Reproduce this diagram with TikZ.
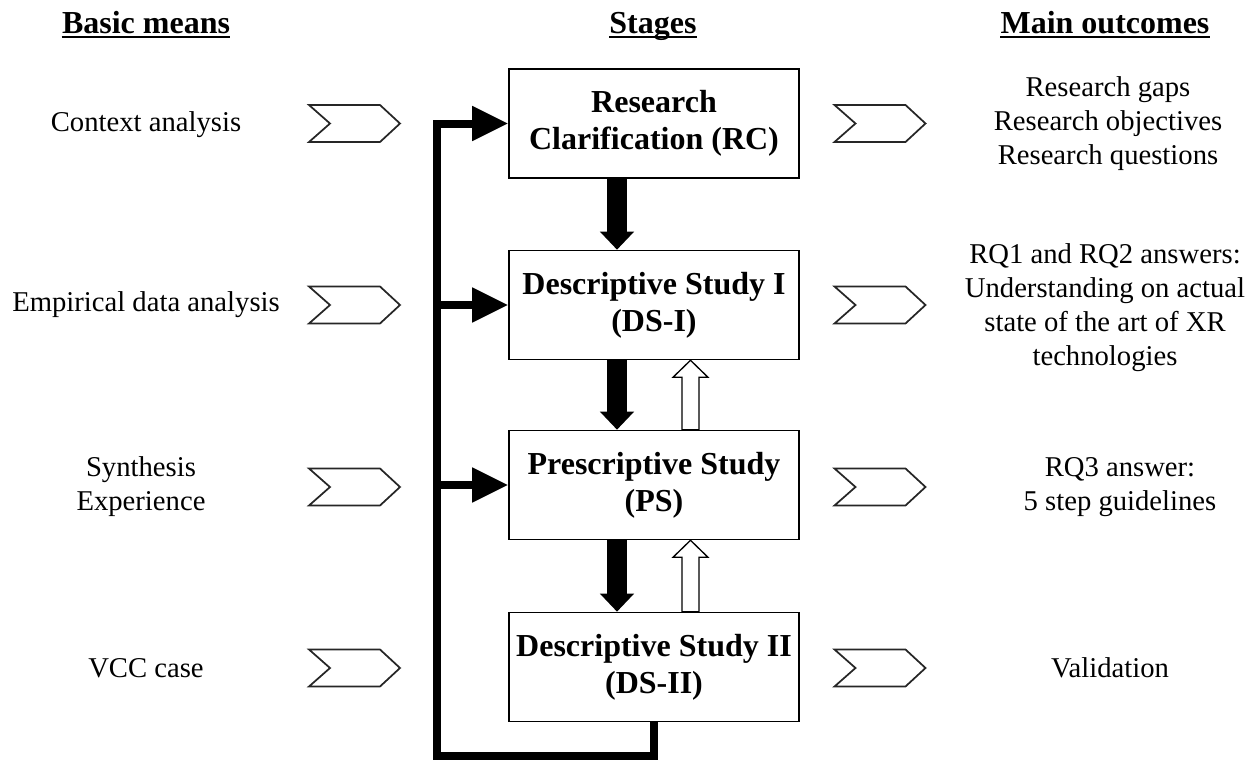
\documentclass[tikz,border=0pt]{standalone}
\usepackage{fontspec}
\setmainfont{Liberation Serif}
\usetikzlibrary{arrows.meta,calc}
\begin{document}
\begin{tikzpicture}[x=0.75pt,y=-0.75pt,
  body/.style={font=\fontsize{21.5}{25.5}\selectfont, align=center, inner sep=0pt},
  head/.style={font=\fontsize{24}{28}\selectfont\bfseries, inner sep=0pt, anchor=base},
  stagebox/.style={draw, line width=1.2pt, minimum width=217.5pt, minimum height=81.75pt,
    font=\fontsize{24}{27.75}\selectfont\bfseries, align=center, inner sep=0pt},
  fb/.style={line width=6pt, line join=miter, -{Triangle[length=27pt,width=24.75pt]}},
  downarr/.style={line width=15pt, -{Triangle[length=13.5pt,width=24.75pt]}},
  hollow/.style={draw, line width=1pt, fill=white, line join=miter},
  chev/.pic={\draw[line width=1.3pt, line join=miter, draw=black!85, fill=white]
     (-45.5,-18.5) -- (25.5,-18.5) -- (45.5,0) -- (25.5,18.5) -- (-45.5,18.5) -- (-24.5,0) -- cycle;}
]
\useasboundingbox (0,0) rectangle (1258,760);

% headers
\node[head] (h1) at (146,33) {Basic means};
\node[head] (h2) at (653,33) {Stages};
\node[head] (h3) at (1105,33) {Main outcomes};
\foreach \h in {h1,h2,h3}
  \draw[line width=1.5pt] ([yshift=-3pt]\h.base west) -- ([yshift=-3pt]\h.base east);

% stage boxes
\node[stagebox] (rc)  at (654,123.5) {Research\\Clarification (RC)};
\node[stagebox] (ds1) at (654,305) {Descriptive Study I\\(DS-I)};
\node[stagebox] (ps)  at (654,485) {Prescriptive Study\\(PS)};
\node[stagebox] (ds2) at (654,667) {Descriptive Study II\\(DS-II)};

% left texts
\node[body] (l1) at (146,125) {Context analysis};
\node[body] (l2) at (146,305) {Empirical data analysis};
\node[body] (l3) at (141,487) {Synthesis\\Experience};
\node[body] (l4) at (146,668) {VCC case};

% right texts
\node[body] (r1) at (1108,124) {Research gaps\\Research objectives\\Research questions};
\node[body] (r2) at (1105,308) {RQ1 and RQ2 answers:\\Understanding on actual\\state of the art of XR\\technologies};
\node[body] (r3) at (1120,487) {RQ3 answer:\\5 step guidelines};
\node[body] (r4) at (1110,668) {Validation};

% chevrons
\foreach \y in {123.5,305,487,668}{
  \pic at (354.5,\y) {chev};
  \pic at (880,\y) {chev};
}

% feedback loop
\coordinate (fbc) at (437,756);
\draw[fb] (ds2.south) |- (fbc) |- (rc.west);
\draw[fb] (ds1.west -| fbc) -- (ds1.west);
\draw[fb] (ps.west -| fbc) -- (ps.west);

% down arrows
\draw[downarr] ($(rc.south)+(-37,0)$) -- ($(ds1.north)+(-37,0)$);
\draw[downarr] ($(ds1.south)+(-37,0)$) -- ($(ps.north)+(-37,0)$);
\draw[downarr] ($(ps.south)+(-37,0)$) -- ($(ds2.north)+(-37,0)$);

% hollow up arrows
\draw[hollow] ($(ps.north)+(28,0)$) -- ($(ds1.south)+(28,17)$) -- ($(ds1.south)+(19,17)$)
  -- ($(ds1.south)+(36.5,0)$) -- ($(ds1.south)+(54,17)$) -- ($(ds1.south)+(45,17)$)
  -- ($(ps.north)+(45,0)$) -- cycle;
\draw[hollow] ($(ds2.north)+(28,0)$) -- ($(ps.south)+(28,17)$) -- ($(ps.south)+(19,17)$)
  -- ($(ps.south)+(36.5,0)$) -- ($(ps.south)+(54,17)$) -- ($(ps.south)+(45,17)$)
  -- ($(ds2.north)+(45,0)$) -- cycle;
\end{tikzpicture}
\end{document}
